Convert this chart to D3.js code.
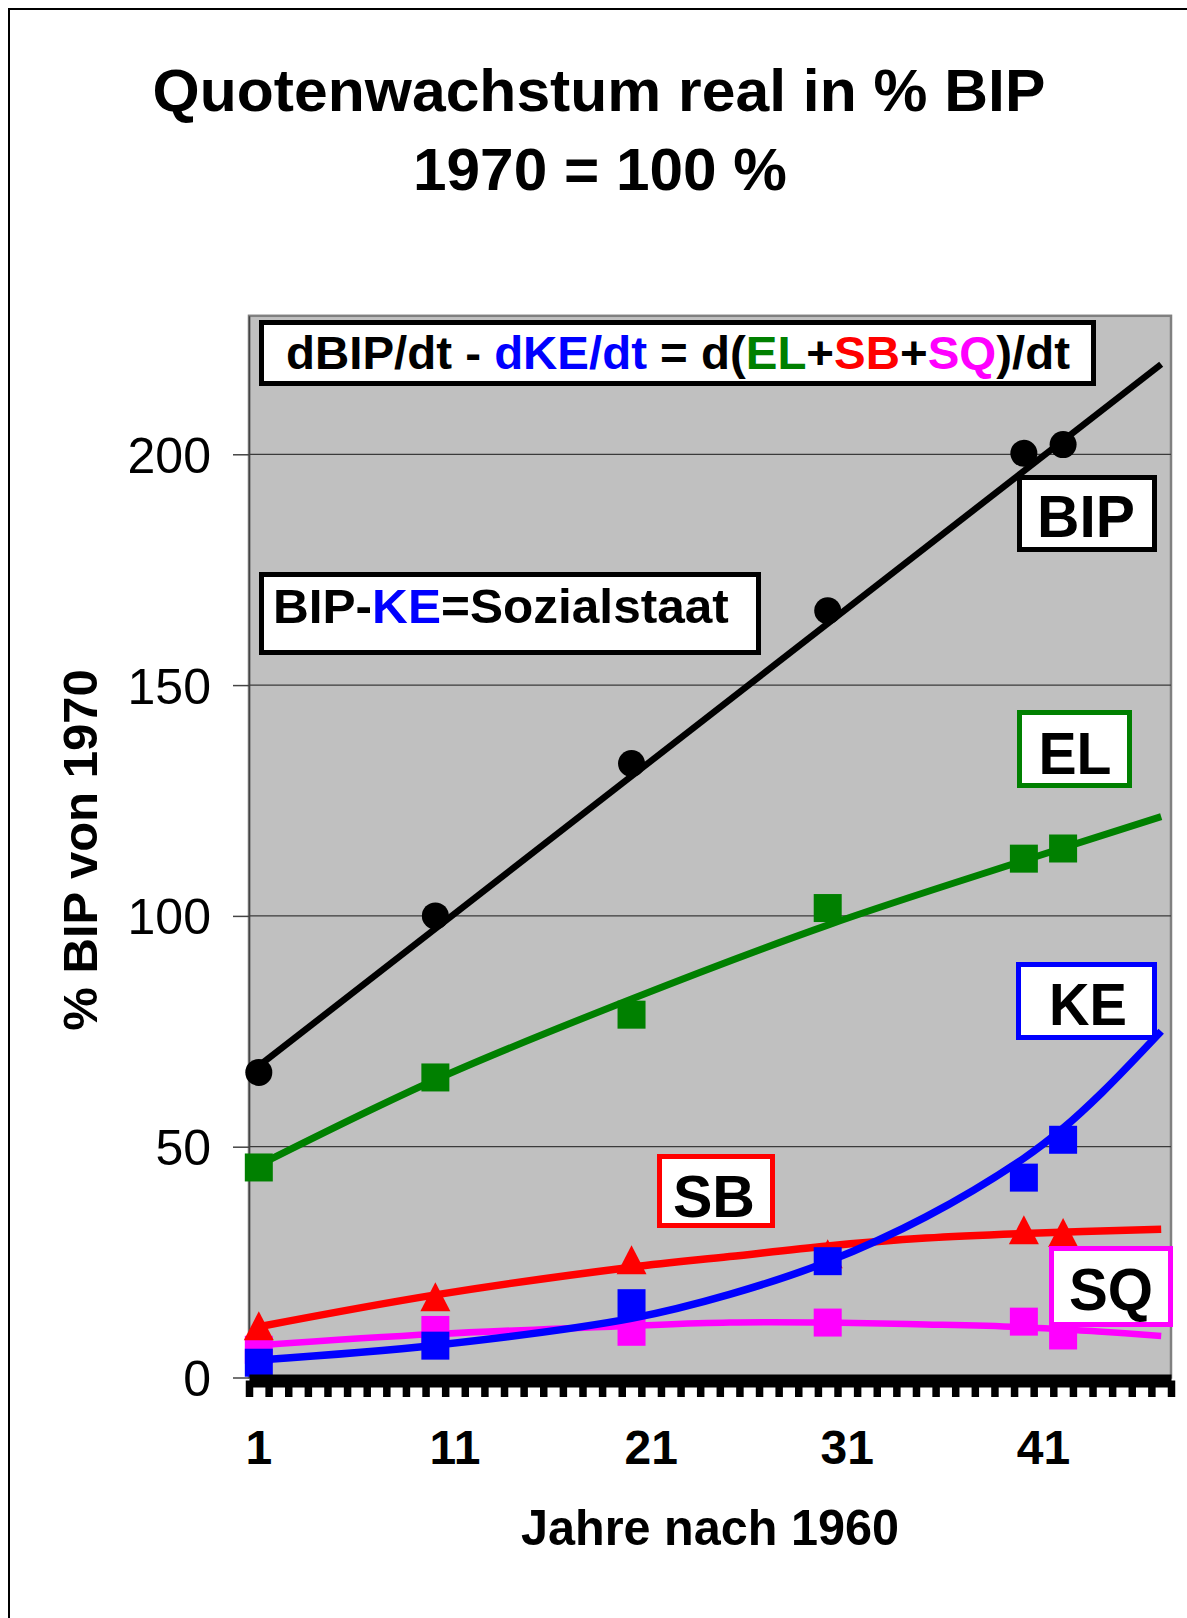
<!DOCTYPE html>
<meta charset="utf-8">
<style>
    body { margin: 0; background: #fff; }
    svg text { font-family: "Liberation Sans", Arial, sans-serif; }
</style>
<svg width="1187" height="1618"></svg>
<script src="https://d3js.org/d3.v7.min.js"></script>
<script>
// measured points (years after 1960, % of 1970 BIP)
var years = [1, 10, 20, 30, 40, 42];
var bip = [66.1, 100, 133, 166.1, 200.2, 202.1];
var el  = [45.5, 65.0, 78.6, 101.7, 112.4, 114.6];
var sq  = [6.0, 10.3, 9.9, 11.9, 12.1, 9.1];
var sb  = [11.2, 17.5, 25.5, 26.8, 32.0, 31.4];
var ke  = [3.2, 6.9, 16.1, 25.2, 43.3, 51.5];

// trend lines
var bipTrendYears = [1, 47];
var bipTrend      = [67.5, 219.5];
var elTrendYears  = [1, 10, 20, 30, 40, 47];
var elTrend       = [46, 64.5, 82, 98, 112, 121.5];
var sqTrendYears  = [1, 10, 20, 25, 30, 35, 40, 44, 47];
var sqTrend       = [7.0, 9.4, 11.2, 11.9, 11.9, 11.5, 10.9, 9.9, 9.0];
var sbTrendYears  = [1, 10, 20, 25, 30, 35, 40, 47];
var sbTrend       = [11.0, 17.9, 23.9, 26.2, 28.5, 30.2, 31.2, 32.1];
var keTrendYears  = [1, 10, 20, 25, 30, 35, 40, 42, 44, 47];
var keTrend       = [3.8, 7.0, 12.8, 18.0, 25.1, 34.8, 47.5, 54.0, 61.8, 75.0];

var yTicks = [0, 50, 100, 150, 200];
var xLabels = [1, 11, 21, 31, 41];
var nYears = 47;

var svg = d3.select("svg");

var x = d3.scaleLinear().domain([0.5, nYears + 0.5]).range([249, 1171]);
var y = d3.scaleLinear().domain([0, 230]).range([1377.5, 315.8]);

// outer frame (only top and left visible)
svg.append("path").attr("d", "M9,1618 V9 H1187")
    .attr("fill", "none").attr("stroke", "#000").attr("stroke-width", 2);

// squeeze a text element horizontally to a target width
function fit(t, w, ax) {
    var cur = t.node().getComputedTextLength();
    var s = w / cur;
    t.attr("transform", "translate(" + ax + ",0) scale(" + s + ",1) translate(" + (-ax) + ",0)");
}

// title
var t1 = svg.append("text").attr("x", 599).attr("y", 111).attr("text-anchor", "middle")
    .attr("font-size", 60).attr("font-weight", "bold").text("Quotenwachstum real in % BIP");
fit(t1, 893, 599);
var t2 = svg.append("text").attr("x", 600).attr("y", 190).attr("text-anchor", "middle")
    .attr("font-size", 60).attr("font-weight", "bold").text("1970 = 100 %");
fit(t2, 374, 600);

// plot area
svg.append("rect")
    .attr("x", x(0.5)).attr("y", y(230))
    .attr("width", x(nYears + 0.5) - x(0.5)).attr("height", y(0) - y(230))
    .attr("fill", "#c0c0c0").attr("stroke", "#808080").attr("stroke-width", 2.5);

// gridlines
svg.append("g").selectAll("line").data(yTicks.filter(d => d > 0)).enter().append("line")
    .attr("x1", x(0.5)).attr("x2", x(nYears + 0.5))
    .attr("y1", d => y(d)).attr("y2", d => y(d))
    .attr("stroke", "#3a3a3a").attr("stroke-width", 1.3);

// y axis
var yAxis = svg.append("g").attr("transform", "translate(" + x(0.5) + ",0)")
    .call(d3.axisLeft(y).tickValues(yTicks).tickSize(16).tickSizeOuter(0).tickPadding(22));
yAxis.select(".domain").attr("stroke", "#444").attr("stroke-width", 1.5);
yAxis.selectAll(".tick line").attr("stroke", "#444").attr("stroke-width", 1.5);
yAxis.selectAll(".tick text").attr("font-size", 50).attr("fill", "#000")
    .attr("font-family", "Liberation Sans, Arial, sans-serif").attr("dy", "0.36em");

// y axis title
svg.append("text").attr("transform", "translate(97,850) rotate(-90)")
    .attr("text-anchor", "middle").attr("font-size", 49).attr("font-weight", "bold")
    .text("% BIP von 1970");

// series
var line = d3.line().x(d => x(d[0])).y(d => y(d[1])).curve(d3.curveCatmullRom.alpha(0.5));
var zip = (a, b) => a.map((v, i) => [v, b[i]]);

var series = [
    {name: "BIP", color: "#000000", pts: bip, ty: bipTrendYears, tv: bipTrend, shape: "circle", w: 6.5},
    {name: "EL",  color: "#008000", pts: el,  ty: elTrendYears,  tv: elTrend,  shape: "square", w: 7},
    {name: "SQ",  color: "#ff00ff", pts: sq,  ty: sqTrendYears,  tv: sqTrend,  shape: "square", w: 6.5},
    {name: "SB",  color: "#ff0000", pts: sb,  ty: sbTrendYears,  tv: sbTrend,  shape: "triangle", w: 7.5},
    {name: "KE",  color: "#0000ff", pts: ke,  ty: keTrendYears,  tv: keTrend,  shape: "square", w: 7.5}
];

var shapes = {
    circle: d3.symbol().type(d3.symbolCircle).size(Math.PI * 13.5 * 13.5)(),
    square: d3.symbol().type(d3.symbolSquare).size(28 * 28)(),
    triangle: "M0,-14.5L15,14.5L-15,14.5Z"
};

series.forEach(function (s) {
    var g = svg.append("g").attr("class", "series-" + s.name);
    g.selectAll("path.mark").data(zip(years, s.pts)).enter().append("path")
        .attr("class", "mark")
        .attr("d", shapes[s.shape])
        .attr("transform", d => "translate(" + x(d[0]) + "," + y(d[1]) + ")")
        .attr("fill", s.color);
    g.append("path").datum(zip(s.ty, s.tv))
        .attr("d", line).attr("fill", "none")
        .attr("stroke", s.color).attr("stroke-width", s.w);
});

// x axis: thick band with a tick at every category boundary
var bounds = d3.range(0, nYears + 1).map(i => i + 0.5);
var xAxis = svg.append("g").attr("transform", "translate(0,1380.5)")
    .call(d3.axisBottom(x).tickValues(bounds).tickSize(16.5).tickSizeOuter(0).tickFormat(""));
xAxis.select(".domain").attr("stroke", "#000").attr("stroke-width", 13);
xAxis.selectAll(".tick line").attr("stroke", "#000").attr("stroke-width", 7.5);

svg.append("g").selectAll("text").data(xLabels).enter().append("text")
    .attr("x", d => x(d)).attr("y", 1464).attr("text-anchor", "middle")
    .attr("font-size", 48).attr("font-weight", "bold").text(d => d);

var xt = svg.append("text").attr("x", 710).attr("y", 1545).attr("text-anchor", "middle")
    .attr("font-size", 50).attr("font-weight", "bold").text("Jahre nach 1960");
fit(xt, 378, 710);

// annotation boxes
function box(x0, y0, x1, y1, color) {
    svg.append("rect").attr("x", x0 + 2.5).attr("y", y0 + 2.5)
        .attr("width", x1 - x0 - 5).attr("height", y1 - y0 - 5)
        .attr("fill", "#fff").attr("stroke", color).attr("stroke-width", 5);
}

box(259, 320, 1096, 386, "#000");
var f = svg.append("text").attr("x", 286).attr("y", 369).attr("font-size", 46).attr("font-weight", "bold");
[["dBIP/dt - ", "#000"], ["dKE/dt", "#0000ff"], [" = d(", "#000"], ["EL", "#008000"], ["+", "#000"],
 ["SB", "#ff0000"], ["+", "#000"], ["SQ", "#ff00ff"], [")/dt", "#000"]].forEach(function (p) {
    f.append("tspan").attr("fill", p[1]).text(p[0]);
});
fit(f, 784, 286);

box(259, 572, 761, 655, "#000");
var f2 = svg.append("text").attr("x", 273).attr("y", 623).attr("font-size", 48).attr("font-weight", "bold");
f2.append("tspan").text("BIP-");
f2.append("tspan").attr("fill", "#0000ff").text("KE");
f2.append("tspan").text("=Sozialstaat");
fit(f2, 456, 273);

var labels = [
    {t: "BIP", box: [1017, 475, 1157, 552], color: "#000",    cx: 1086, by: 537,  w: 98},
    {t: "EL",  box: [1017, 710, 1132, 788], color: "#008000", cx: 1075, by: 774,  w: 73},
    {t: "KE",  box: [1016, 962, 1157, 1040], color: "#0000ff", cx: 1088, by: 1025, w: 78},
    {t: "SB",  box: [657, 1154, 775, 1228], color: "#ff0000", cx: 714,  by: 1217, w: 82},
    {t: "SQ",  box: [1049, 1246, 1173, 1327], color: "#ff00ff", cx: 1111, by: 1310, w: 84}
];
labels.forEach(function (l) {
    box(l.box[0], l.box[1], l.box[2], l.box[3], l.color);
    var tt = svg.append("text").attr("x", l.cx).attr("y", l.by).attr("text-anchor", "middle")
        .attr("font-size", 60).attr("font-weight", "bold").text(l.t);
    fit(tt, l.w, l.cx);
});
</script>
